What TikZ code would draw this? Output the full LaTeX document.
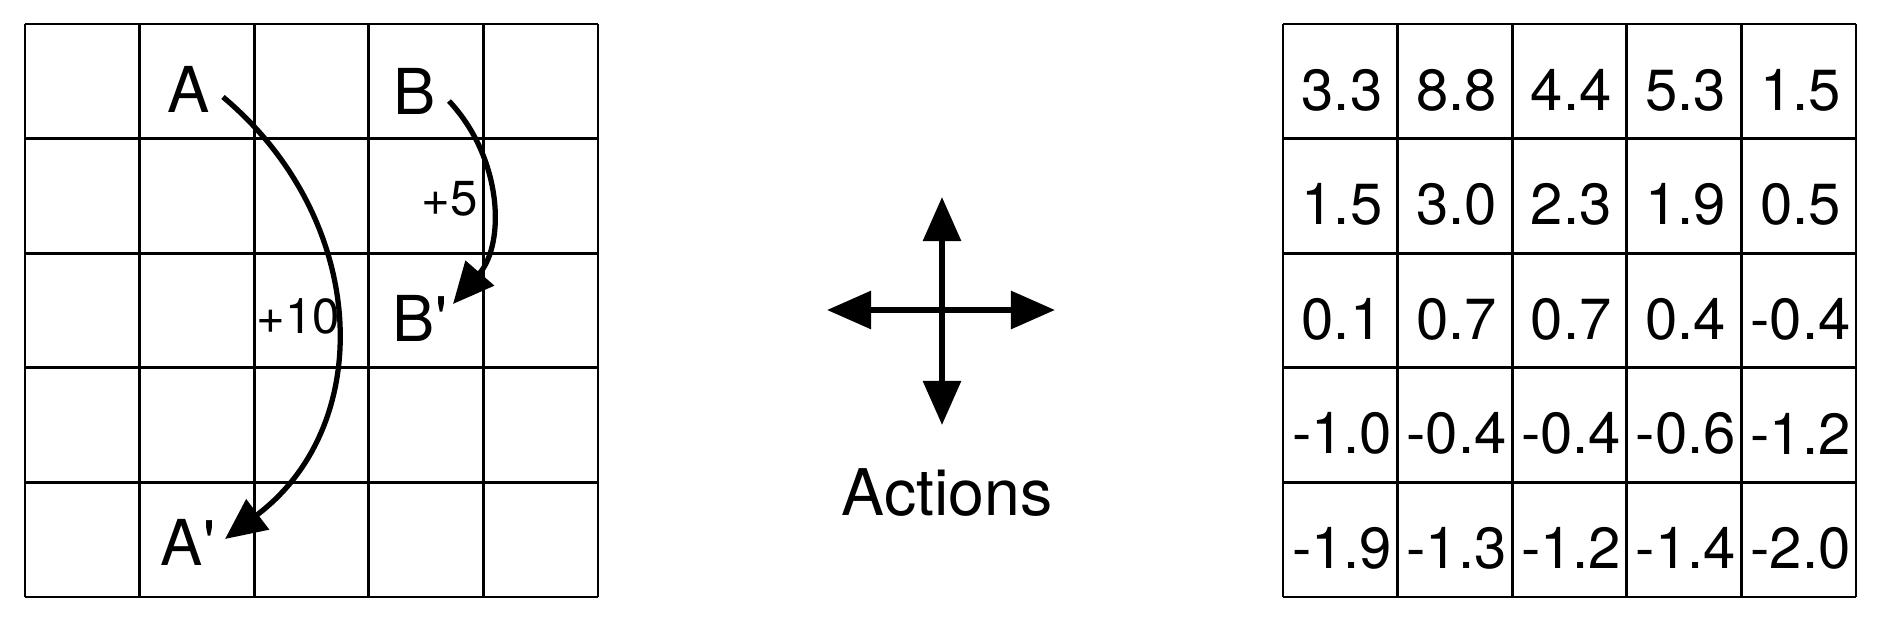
\documentclass[tikz,border=0pt]{standalone}
\usepackage{fontspec}
\setmainfont{TeX Gyre Heros}[Ligatures=TeXOff]
\usetikzlibrary{arrows.meta}

\tikzset{
  cellline/.style={line width=0.8pt},
  lbl/.style={inner sep=0pt, font=\fontsize{18}{20}\selectfont},
  rew/.style={inner sep=0pt, font=\fontsize{14}{16}\selectfont},
  val/.style={inner sep=0pt, font=\fontsize{16.5}{19}\selectfont},
  move/.style={->, >={Triangle[length=0.41cm, width=0.37cm]}, line width=1.5pt},
  act/.style={<->, >={Triangle[length=0.44cm, width=0.37cm]}, line width=1.7pt}
}

\begin{document}
\begin{tikzpicture}[x=0.01cm, y=0.01cm]
  \useasboundingbox (0,0) rectangle (1885,621);
  % left grid with the two jumps
  \foreach \i in {0,...,5} {
    \draw[cellline] (25+114.6*\i,24) -- (25+114.6*\i,597);
    \draw[cellline] (25,24+114.6*\i) -- (598,24+114.6*\i);
  }
  \node[lbl] (a)  at (189,532) {A};
  \node[lbl] (b)  at (415,530) {B};
  \node[lbl] (a2) at (188,79)  {A'};
  \node[lbl] (b2) at (420,303) {B'};
  \node[rew] (r10) at (298,305) {+10};
  \node[rew] (r5)  at (450,422) {+5};
  \coordinate (aout) at (223,524);
  \coordinate (ain)  at (225,82);
  \coordinate (bout) at (449,520);
  \coordinate (bin)  at (453,317);
  \draw[move] (aout) to[out=-40, in=37, looseness=1.1] (ain);
  \draw[move] (bout) to[out=-47, in=49] (bin);
  % actions
  \coordinate (mid)   at (942,311);
  \coordinate (up)    at (942,424);
  \coordinate (down)  at (942,196);
  \coordinate (left)  at (827,311);
  \coordinate (right) at (1055,311);
  \draw[act] (left) -- (right);
  \draw[act] (down) -- (up);
  \node[lbl, font=\fontsize{18.3}{20}\selectfont] (actions) at (947,128) {Actions};
  % right grid with values
  \foreach \i in {0,...,5} {
    \draw[cellline] (1283+114.6*\i,24) -- (1283+114.6*\i,597);
    \draw[cellline] (1283,24+114.6*\i) -- (1856,24+114.6*\i);
  }
  \foreach \row [count=\r from 0] in {{3.3,8.8,4.4,5.3,1.5},{1.5,3.0,2.3,1.9,0.5},{0.1,0.7,0.7,0.4,-0.4},{-1.0,-0.4,-0.4,-0.6,-1.2},{-1.9,-1.3,-1.2,-1.4,-2.0}}
    \foreach \v [count=\c from 0] in \row
      \node[val] (v\r\c) at (1342+114.6*\c, 531-114.6*\r) {\v};
\end{tikzpicture}
\end{document}
